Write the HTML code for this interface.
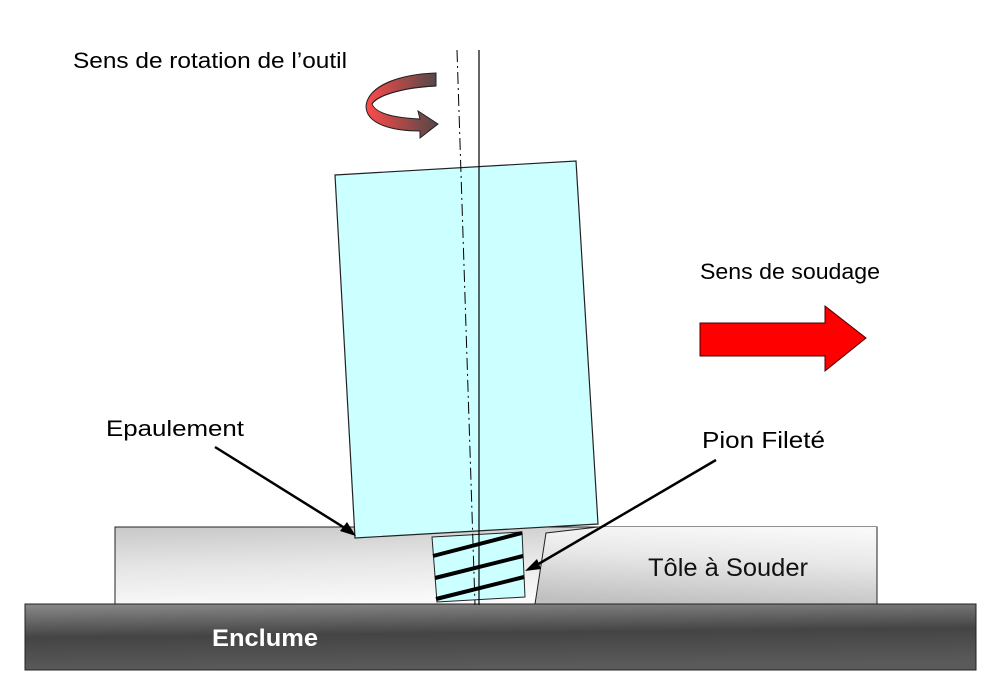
<!DOCTYPE html>
<html><head><meta charset="utf-8"><style>
html,body{margin:0;padding:0;background:#fff;width:995px;height:700px;overflow:hidden}
</style></head><body>
<svg width="995" height="700" viewBox="0 0 995 700" xmlns="http://www.w3.org/2000/svg">
<defs>
<linearGradient id="pl" x1="0" y1="0" x2="0.3" y2="1">
<stop offset="0" stop-color="#c8c8c8"/><stop offset="0.5" stop-color="#e6e6e6"/><stop offset="1" stop-color="#fafafa"/></linearGradient>
<linearGradient id="pl2" x1="0.4" y1="1" x2="0.6" y2="0">
<stop offset="0" stop-color="#c0c0c0"/><stop offset="0.6" stop-color="#e8e8e8"/><stop offset="1" stop-color="#f8f8f8"/></linearGradient>
<linearGradient id="en" x1="0" y1="0" x2="0.15" y2="1">
<stop offset="0" stop-color="#8a8a8a"/><stop offset="0.5" stop-color="#444"/><stop offset="1" stop-color="#5a5a5a"/></linearGradient>
<linearGradient id="rot" x1="0" y1="0" x2="1" y2="0">
<stop offset="0" stop-color="#ff4a4a"/><stop offset="1" stop-color="#504848"/></linearGradient>
</defs>
<text x="73" y="68" font-family="Liberation Sans, sans-serif" font-size="22" fill="#000" textLength="274" lengthAdjust="spacingAndGlyphs">Sens de rotation de l’outil</text>
<text x="700" y="279" font-family="Liberation Sans, sans-serif" font-size="22" fill="#000" textLength="180" lengthAdjust="spacingAndGlyphs">Sens de soudage</text>
<!-- plate -->
<rect x="115" y="527" width="762" height="77" fill="url(#pl)" stroke="#222" stroke-width="1"/>
<polygon points="546,533 598,527 877,527 877,604 535,604" fill="url(#pl2)"/>
<polyline points="535,604 546,533 598,527" fill="none" stroke="#222" stroke-width="1"/>
<line x1="877" y1="527" x2="877" y2="604" stroke="#222"/>
<text x="648" y="576" font-family="Liberation Sans, sans-serif" font-size="25" fill="#111" textLength="160" lengthAdjust="spacingAndGlyphs">Tôle à Souder</text>
<!-- enclume -->
<rect x="25" y="604" width="951" height="66" fill="url(#en)" stroke="#222" stroke-width="1"/>
<text x="212" y="646" font-family="Liberation Sans, sans-serif" font-size="24" font-weight="bold" fill="#fff" textLength="106" lengthAdjust="spacingAndGlyphs">Enclume</text>
<!-- tool -->
<polygon points="335,175 576,161 598,524 355,538" fill="#ccffff" stroke="#222" stroke-width="1.2"/>
<polygon points="432,537 522,532 525,597 437,602" fill="#ccffff" stroke="#222" stroke-width="1"/>
<g stroke="#000" stroke-width="4">
<line x1="433" y1="556" x2="522" y2="533"/>
<line x1="435" y1="578" x2="523" y2="556"/>
<line x1="436" y1="599" x2="524" y2="577"/>
</g>
<line x1="479" y1="50" x2="479" y2="605" stroke="#000" stroke-width="1.2"/>
<line x1="457" y1="50" x2="475" y2="605" stroke="#000" stroke-width="1" stroke-dasharray="12,4,2,4"/>
<!-- rotation arrow -->
<path d="M436,73 L436,86 C405,87 380,94 372,104 L368,100 C372,84 400,74 436,73 Z" fill="#5a4848"/>
<path d="M436,73 L436,86 C405,87 378,95 372,104 C376,114 396,118 420,119 L418,111 L438,124 L420,138 L420,131 C392,131 366,124 366,106 C368,86 400,74 436,73 Z" fill="url(#rot)" stroke="#222" stroke-width="1"/>
<path d="M372,104 C376,96 400,88 436,86" fill="none" stroke="#222" stroke-width="1"/>
<!-- red arrow -->
<polygon points="700,323 825,323 825,306 866,338 825,371 825,356 700,356" fill="#ff0000" stroke="#400" stroke-width="1"/>
<!-- leaders -->
<text x="106" y="436" font-family="Liberation Sans, sans-serif" font-size="22" fill="#000" textLength="138" lengthAdjust="spacingAndGlyphs">Epaulement</text>
<text x="702" y="448" font-family="Liberation Sans, sans-serif" font-size="23" fill="#000" textLength="123" lengthAdjust="spacingAndGlyphs">Pion Fileté</text>
<line x1="215" y1="447" x2="348" y2="530" stroke="#000" stroke-width="2.5"/>
<polygon points="356,536 340,531 347,522" fill="#000"/>
<line x1="716" y1="460" x2="535" y2="566" stroke="#000" stroke-width="2.5"/>
<polygon points="525,571 537,559 541,569" fill="#000"/>
</svg>
</body></html>
